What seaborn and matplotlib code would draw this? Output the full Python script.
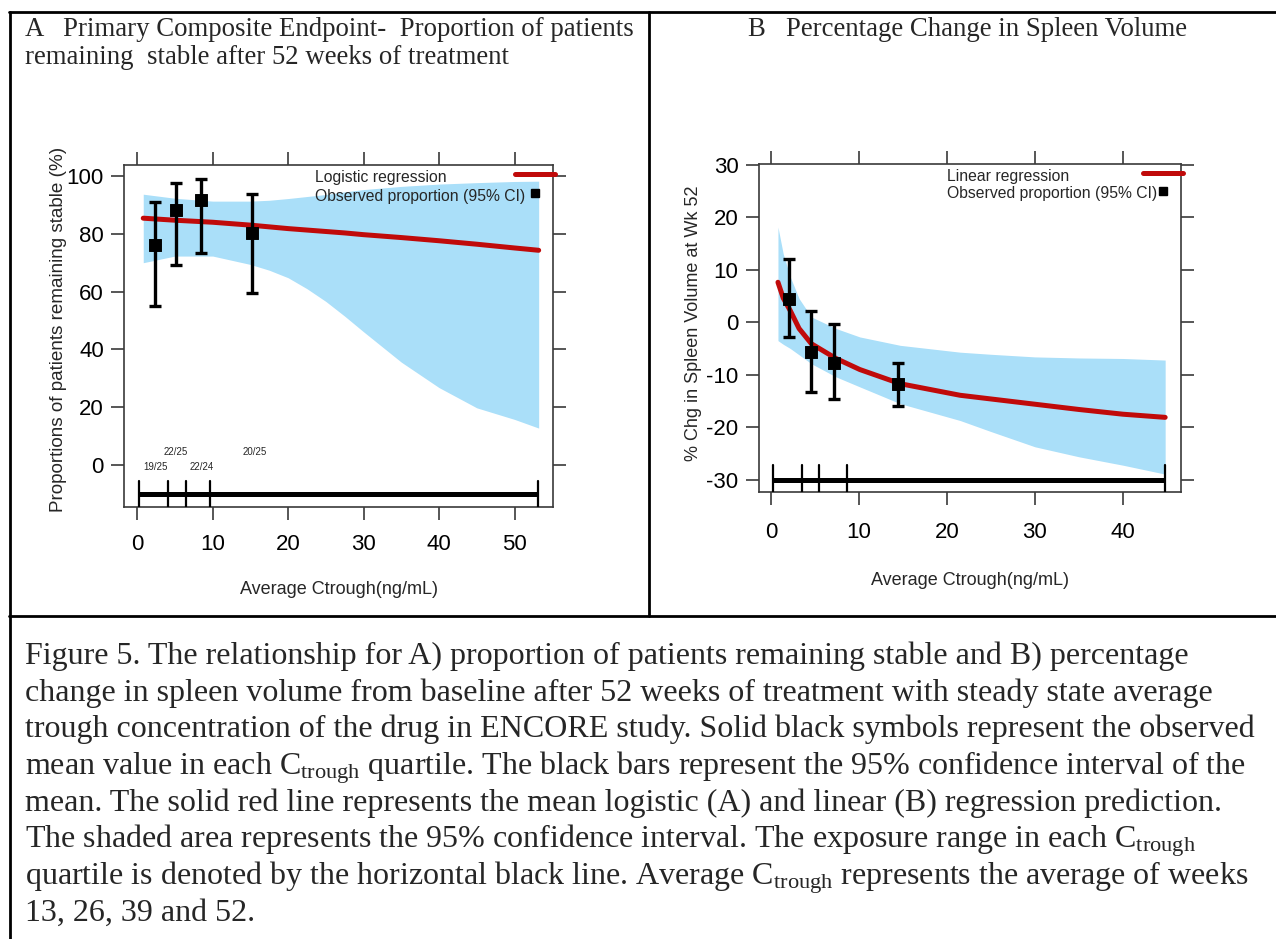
import numpy as np
import pandas as pd
import matplotlib
matplotlib.use("Agg")
import matplotlib.pyplot as plt
import seaborn as sns
from matplotlib.lines import Line2D

# ---------------- Panel A data ----------------
a_obs_x = [2.4, 5.1, 8.4, 15.2]
a_obs_y = [76.2, 88.1, 91.8, 80.3]
a_obs_lo = [55.1, 69.1, 73.2, 59.4]
a_obs_hi = [91.0, 97.7, 99.1, 93.6]
a_fit_x = [0.8, 5, 10, 15, 17.5, 20, 22.5, 25, 27.5, 30, 35, 40, 45, 50, 53.2]
a_fit_y = [85.4, 84.7, 84.0, 83.0, 82.4, 81.8, 81.3, 80.8, 80.3, 79.7, 78.7, 77.6, 76.4, 75.1, 74.3]
a_band_lo = [70.0, 72.3, 72.3, 69.4, 67.4, 64.8, 61.0, 56.6, 51.5, 46.1, 35.6, 26.8, 19.8, 15.8, 12.8]
a_band_hi = [93.7, 92.3, 91.3, 91.3, 91.6, 92.2, 92.9, 93.6, 94.5, 95.3, 96.4, 97.2, 97.7, 98.1, 98.2]
a_quart_edges = [0.2, 4.1, 6.5, 9.7, 53.1]
a_quart_labels = ["19/25", "22/25", "22/24", "20/25"]
a_quart_label_x = [2.4, 5.1, 8.6, 15.6]
a_quart_label_y = [-0.5, 4.4, -0.5, 4.4]

# ---------------- Panel B data ----------------
b_obs_x = [2.1, 4.6, 7.2, 14.4]
b_obs_y = [4.5, -5.7, -7.7, -11.8]
b_obs_lo = [-2.9, -13.2, -14.6, -15.9]
b_obs_hi = [12.0, 2.1, -0.4, -7.8]
b_fit_x = [0.8, 1.4, 2.2, 3.2, 4.6, 7.4, 10.1, 14.7, 21.5, 25, 30, 35, 40, 44.8]
b_fit_y = [7.6, 4.6, 2.2, -1.2, -4.1, -6.9, -9.0, -11.7, -13.9, -14.6, -15.6, -16.6, -17.5, -18.1]
b_band_hi = [18.1, 13.0, 8.6, 4.5, 1.0, -1.2, -2.8, -4.4, -5.7, -6.1, -6.6, -6.8, -6.9, -7.2]
b_band_lo = [-3.5, -4.2, -5.0, -6.2, -7.9, -10.4, -12.3, -15.5, -18.7, -20.8, -23.7, -25.6, -27.2, -28.9]
b_quart_edges = [0.2, 3.5, 5.5, 8.7, 44.8]

# ---------------- Text ----------------
title_a = ["A   Primary Composite Endpoint-  Proportion of patients",
           "remaining  stable after 52 weeks of treatment"]
title_b = "B   Percentage Change in Spleen Volume"
ylabel_a = "Proportions of patients remaining stable (%)"
ylabel_b = "% Chg in Spleen Volume at Wk 52"
xlabel = "Average Ctrough(ng/mL)"
legend_fit_a = "Logistic regression"
legend_fit_b = "Linear regression"
legend_obs = "Observed proportion (95% CI)"
CT = r"$\mathrm{C}_{\mathrm{trough}}$"
caption = [
    "Figure 5. The relationship for A) proportion of patients remaining stable and B) percentage",
    "change in spleen volume from baseline after 52 weeks of treatment with steady state average",
    "trough concentration of the drug in ENCORE study. Solid black symbols represent the observed",
    "mean value in each " + CT + " quartile. The black bars represent the 95% confidence interval of the",
    "mean. The solid red line represents the mean logistic (A) and linear (B) regression prediction.",
    "The shaded area represents the 95% confidence interval. The exposure range in each " + CT,
    "quartile is denoted by the horizontal black line. Average " + CT + " represents the average of weeks",
    "13, 26, 39 and 52.",
]

sns.set_theme(style="white")
plt.rcParams["font.family"] = ["Liberation Sans", "DejaVu Sans"]
plt.rcParams["mathtext.fontset"] = "custom"
plt.rcParams["mathtext.rm"] = "Liberation Serif"
plt.rcParams["mathtext.it"] = "Liberation Serif:italic"

W, H = 1276, 939
fig = plt.figure(figsize=(W / 100, H / 100), dpi=100)
fig.patch.set_facecolor("white")

RED = "#c00a0a"
BAND = "#aadff9"
SPINE = "#3a3a3a"


def box(l, t, r, b):
    return [l / W, 1 - b / H, (r - l) / W, (b - t) / H]


axA = fig.add_axes(box(124, 165, 553, 507))
axB = fig.add_axes(box(758.6, 164, 1181, 492))


def panel(ax, fx, fy, blo, bhi, ox, oy, olo, ohi, edges, yline, half, xlim, ylim,
          xticks, yticks, ylab, fit_label, xpad, xlabpad, ylab_x, ylab_y, ylab_size):
    df_fit = pd.DataFrame({"x": fx, "y": fy})
    ax.fill_between(fx, blo, bhi, color=BAND, lw=0, zorder=1)
    sns.lineplot(data=df_fit, x="x", y="y", ax=ax, color=RED, lw=3.6, zorder=3)
    # exposure quartile line
    ax.plot([edges[0], edges[-1]], [yline, yline], color="black", lw=3.6,
            solid_capstyle="butt", zorder=4)
    for e in edges:
        ax.plot([e, e], [yline - half, yline + half], color="black", lw=1.6, zorder=4)
    # observed
    yerr = [np.array(oy) - np.array(olo), np.array(ohi) - np.array(oy)]
    ax.errorbar(ox, oy, yerr=yerr, fmt="none", ecolor="black", elinewidth=2.4,
                capsize=4.5, capthick=2.4, zorder=5)
    df_obs = pd.DataFrame({"x": ox, "y": oy})
    sns.scatterplot(data=df_obs, x="x", y="y", ax=ax, marker="s", s=70,
                    color="black", edgecolor="black", zorder=6)
    ax.set_xlim(*xlim)
    ax.set_ylim(*ylim)
    ax.set_xticks(xticks)
    ax.set_yticks(yticks)
    ax.set_xticklabels([str(v) for v in xticks])
    ax.set_yticklabels([str(v) for v in yticks])
    ax.tick_params(axis="both", which="both", direction="out", top=True, right=True,
                   bottom=True, left=True, labeltop=False, labelright=False,
                   length=9.5, width=1.2, color=SPINE, labelsize=16, labelcolor="black")
    ax.tick_params(axis="x", pad=xpad)
    ax.tick_params(axis="y", pad=5)
    for s in ax.spines.values():
        s.set_color(SPINE)
        s.set_linewidth(1.2)
    ax.set_xlabel(xlabel, fontsize=13, labelpad=xlabpad)
    ax.set_ylabel(ylab, fontsize=ylab_size, va="center")
    ax.yaxis.set_label_coords(ylab_x, ylab_y)
    # legend (lattice-style key)
    ax.text(0.445, 0.962, fit_label, transform=ax.transAxes, fontsize=11.3,
            ha="left", va="center", zorder=7)
    ax.text(0.445, 0.909, legend_obs, transform=ax.transAxes, fontsize=11.3,
            ha="left", va="center", zorder=7)
    ax.add_line(Line2D([0.911, 1.004], [0.973, 0.973], transform=ax.transAxes,
                       color=RED, lw=3.6, clip_on=False, zorder=7))
    ax.add_line(Line2D([0.958], [0.918], transform=ax.transAxes, marker="s",
                       markersize=6, color="black", lw=0, clip_on=False, zorder=7))


panel(axA, a_fit_x, a_fit_y, a_band_lo, a_band_hi, a_obs_x, a_obs_y, a_obs_lo, a_obs_hi,
      a_quart_edges, -10, 4.5, (-1.75, 55.1), (-14.5, 103.8), [0, 10, 20, 30, 40, 50],
      [0, 20, 40, 60, 80, 100], ylabel_a, legend_fit_a, 10, 19, -0.153, 0.52, 13.6)
for lx, ly, lab in zip(a_quart_label_x, a_quart_label_y, a_quart_labels):
    axA.text(lx, ly, lab, fontsize=7, ha="center", va="center", zorder=7)

panel(axB, b_fit_x, b_fit_y, b_band_lo, b_band_hi, b_obs_x, b_obs_y, b_obs_lo, b_obs_hi,
      b_quart_edges, -30, 2.8, (-1.4, 46.6), (-32.3, 30.1), [0, 10, 20, 30, 40],
      [-30, -20, -10, 0, 10, 20, 30], ylabel_b, legend_fit_b, 12, 21, -0.153, 0.515, 13.0)

# ---------------- frame (table) lines ----------------
def fline(x0, y0, x1, y1, lw=2.0):
    fig.add_artist(Line2D([x0 / W, x1 / W], [1 - y0 / H, 1 - y1 / H],
                          transform=fig.transFigure, color="black", lw=lw))

fline(9, 12, W, 12)
fline(10, 12, 10, H)
fline(649, 12, 649, 616)
fline(9, 616, W, 616)

# ---------------- titles ----------------
serif = ["Liberation Serif", "DejaVu Serif"]
fig.text(25 / W, 1 - 30 / H, title_a[0], family=serif, fontsize=19.3, ha="left", va="center")
fig.text(25 / W, 1 - 58 / H, title_a[1], family=serif, fontsize=19.3, ha="left", va="center")
fig.text(968 / W, 1 - 30 / H, title_b, family=serif, fontsize=19.3, ha="center", va="center")

# ---------------- caption ----------------
y0 = 655
for i, line in enumerate(caption):
    fig.text(25 / W, 1 - (y0 + 9 + i * 36.7) / H, line, family=serif, fontsize=23,
             ha="left", va="baseline")

fig.savefig("out.png", dpi=100)
